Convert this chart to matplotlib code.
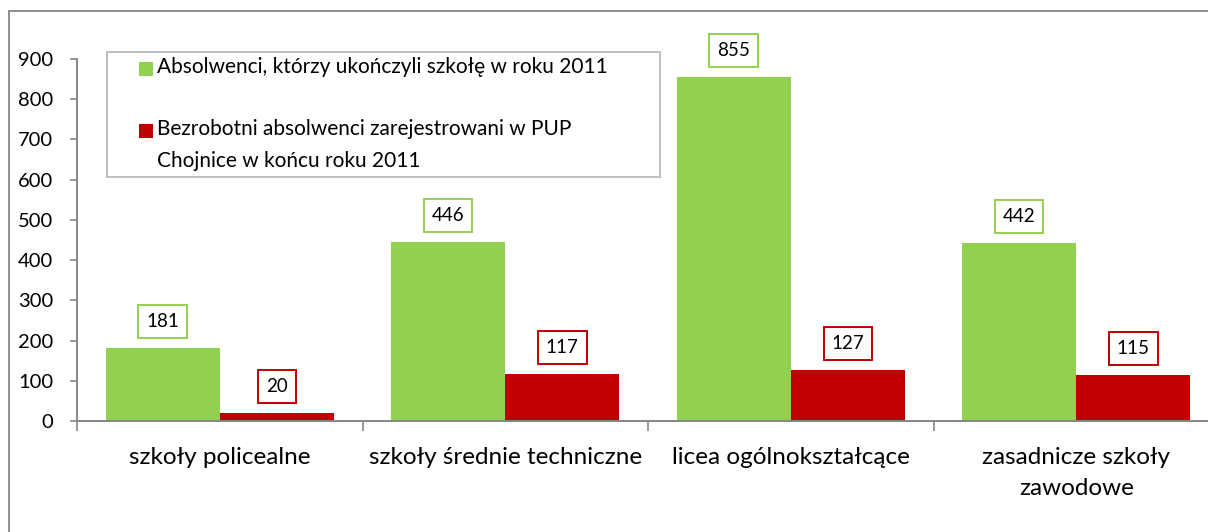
import matplotlib
matplotlib.use("Agg")
import matplotlib.pyplot as plt
import matplotlib.patches as mpatches
import numpy as np

plt.rcParams['font.family'] = ['Lato', 'DejaVu Sans']

categories = ["szkoły policealne", "szkoły średnie techniczne", "licea ogólnokształcące",
              "zasadnicze szkoły\nzawodowe"]
graduates = [181, 446, 855, 442]
unemployed = [20, 117, 127, 115]
series_names = ["Absolwenci, którzy ukończyli szkołę w roku 2011",
                "Bezrobotni absolwenci zarejestrowani w PUP\nChojnice w końcu roku 2011"]
yticks = [0, 100, 200, 300, 400, 500, 600, 700, 800, 900]

GREEN = "#92D050"
RED = "#C00000"
GRAY = "#868686"

W, H = 1208, 532
fig = plt.figure(figsize=(W / 100, H / 100), dpi=100)
ax = fig.add_axes([77 / W, 1 - 421 / H, (1219 - 77) / W, (421 - 59) / H])

x = np.arange(len(categories))
bw = 0.4
b1 = ax.bar(x - bw / 2, graduates, bw, color=GREEN)
b2 = ax.bar(x + bw / 2, unemployed, bw, color=RED)

for bars, vals, col in ((b1, graduates, GREEN), (b2, unemployed, RED)):
    for rect, v in zip(bars, vals):
        ax.annotate(str(v), (rect.get_x() + rect.get_width() / 2, v),
                    xytext=(0, 19), textcoords="offset points",
                    ha="center", va="center", fontsize=13.5,
                    bbox=dict(boxstyle="square,pad=0.42", fc="white", ec=col, lw=1.4))

ax.set_xlim(-0.5, len(categories) - 0.5)
ax.set_ylim(0, 900)
ax.set_yticks(yticks)
ax.tick_params(axis='y', labelsize=14.5, length=5, color=GRAY, width=1.2, pad=12)
ax.set_xticks(x)
ax.set_xticklabels(categories, fontsize=17.5, linespacing=1.55)
ax.tick_params(axis='x', length=0, pad=19)
ax.set_xticks(np.arange(-0.5, len(categories)), minor=True)
ax.tick_params(axis='x', which='minor', length=7, color=GRAY, width=1.2, direction='out')

for s in ("top", "right"):
    ax.spines[s].set_visible(False)
for s in ("left", "bottom"):
    ax.spines[s].set_color(GRAY)
    ax.spines[s].set_linewidth(1.4)

# legend drawn in figure pixel coordinates
def fx(px):
    return px / W

def fy(py):
    return 1 - py / H

fig.patches.append(mpatches.Rectangle((fx(107), fy(177)), (660 - 107) / W, (177 - 52) / H,
                                      transform=fig.transFigure, fill=True, fc="white",
                                      ec="#BFBFBF", lw=1.4, zorder=5))
legend_rows = [(69, GREEN, series_names[0]), (131, RED, series_names[1])]
for ypix, col, name in legend_rows:
    fig.patches.append(mpatches.Rectangle((fx(139), fy(ypix + 7)), 14 / W, 14 / H,
                                          transform=fig.transFigure, fc=col, ec="none",
                                          zorder=6))
    fig.text(fx(157), fy(ypix - 12), name, ha="left", va="top", fontsize=15,
             linespacing=1.75, zorder=7)

frame = mpatches.Rectangle((fx(9), -0.1), 1.1, 1.1 - 11 / H, transform=fig.transFigure,
                           fill=False, ec=GRAY, lw=1.3, clip_on=False)
fig.patches.append(frame)

fig.savefig("out.png", dpi=100)
